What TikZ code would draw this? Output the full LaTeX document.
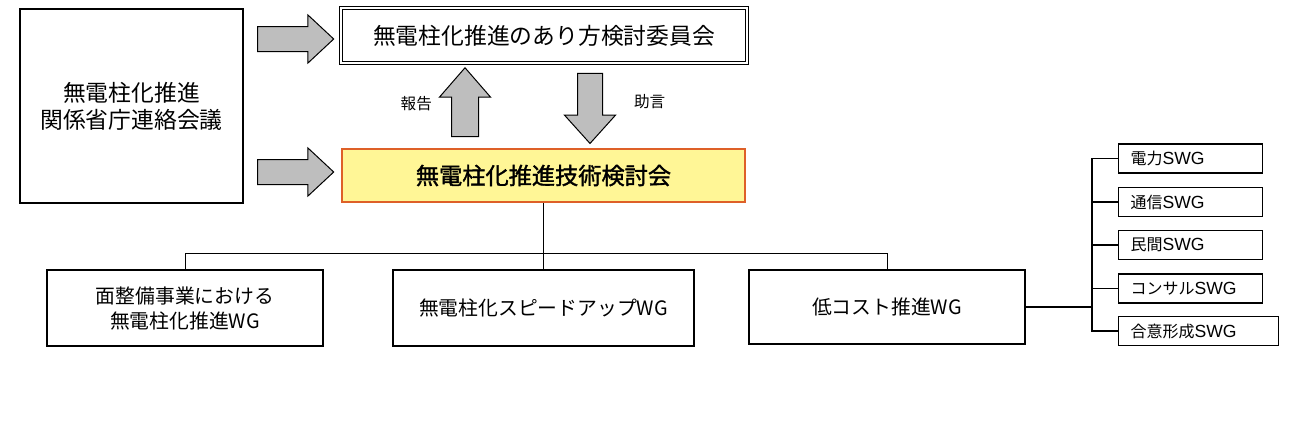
\documentclass[tikz,border=0pt]{standalone}
\usepackage{fontspec}
\setmainfont{Noto Sans CJK JP}
\newfontfamily\cjkbold[FakeBold=1.5]{Noto Sans CJK JP}
\newfontfamily\latin{Liberation Sans}
\usetikzlibrary{shapes.arrows,positioning}
\definecolor{techfill}{RGB}{255,246,150}
\definecolor{techline}{RGB}{222,96,40}
\definecolor{arrowgray}{RGB}{190,190,190}
\newcommand{\swgname}[1]{\hspace*{6pt}#1{\latin\fontsize{8.8}{10}\selectfont SWG}}

\begin{document}
\begin{tikzpicture}[x=0.5pt,y=-0.5pt,node distance=6pt,
  box/.style={draw,rectangle,inner sep=0pt,align=center,line width=0.6pt},
  swg/.style={draw,rectangle,inner sep=0pt,anchor=west,minimum height=14.5pt,
    text width=72pt,align=left,font=\fontsize{8}{10}\selectfont,line width=0.6pt},
  blockarrow/.style={single arrow,draw,fill=arrowgray,inner sep=6pt,line width=0.5pt,
    single arrow head indent=0pt}]
  \useasboundingbox (0,0) rectangle (1309,420);
  % upper part
  \node[box,minimum width=111.5pt,minimum height=97pt,
    font=\fontsize{11.4}{13.5}\selectfont] (renraku) at (131.5,106)
    {無電柱化推進\\関係省庁連絡会議};
  \node[box,minimum width=203pt,minimum height=27.5pt,double,double distance=1pt,
    line width=0.7pt,font=\fontsize{11.4}{14}\selectfont] (iinkai) at (544,35.5)
    {無電柱化推進のあり方検討委員会};
  \node[box,minimum width=201.5pt,minimum height=26.5pt,fill=techfill,draw=techline,
    line width=1pt,font=\fontsize{11.6}{14}\cjkbold] (gijutsu) at (543.5,175.5)
    {無電柱化推進技術検討会};
  \node[blockarrow,minimum height=38pt,
    single arrow head extend=5.75pt,single arrow tip angle=86] (a1) at (289,39) {};
  \node[blockarrow,minimum height=38pt,
    single arrow head extend=5.75pt,single arrow tip angle=86] (a2) at (289,172) {};
  \node[blockarrow,minimum height=34.5pt,inner sep=6.5pt,shape border rotate=90,
    single arrow head extend=6pt,single arrow tip angle=82] (up) at (465,110) {};
  \node[blockarrow,minimum height=35pt,shape border rotate=270,
    single arrow head extend=6.5pt,single arrow tip angle=84] (down) at (590,101.5) {};
  \node[font=\fontsize{7.8}{9}\selectfont,left=6pt of up,yshift=3pt] (hokoku) {報告};
  \node[font=\fontsize{7.8}{9}\selectfont,right=12pt of down] (jogen) {助言};
  % working groups
  \node[box,minimum width=138pt,minimum height=38pt,
    font=\fontsize{9.9}{12.5}\selectfont] (men) at (185,308)
    {面整備事業における\\無電柱化推進WG};
  \node[box,minimum width=150.5pt,minimum height=38pt,
    font=\fontsize{9.9}{12.5}\selectfont] (speed) at (543.5,308)
    {無電柱化スピードアップWG};
  \node[box,minimum width=138pt,minimum height=37pt,
    font=\fontsize{9.9}{12.5}\selectfont] (cost) at (887,307)
    {低コスト推進WG};
  % sub working groups
  \node[swg] (s1) at (1118,158.5) {\swgname{電力}};
  \node[swg] (s2) at (1118,202) {\swgname{通信}};
  \node[swg] (s3) at (1118,245) {\swgname{民間}};
  \node[swg] (s4) at (1118,288.5) {\swgname{コンサル}};
  \node[swg,text width=80pt] (s5) at (1118,331) {\swgname{合意形成}};
  \coordinate (bus) at (0,253);
  \coordinate (trunk) at (1092,307);
  \draw[line width=0.5pt] (gijutsu.south) -- (gijutsu.south |- bus) -| (men.north);
  \draw[line width=0.5pt] (gijutsu.south |- bus) -| (cost.north);
  \draw[line width=0.5pt] (gijutsu.south |- bus) -- (speed.north);
  \draw[line width=1pt] (cost.east) -- (trunk);
  \draw[line width=0.8pt] (s1.west) -- (s1.west -| trunk) -- (s5.west -| trunk) -- (s5.west);
  \draw[line width=0.6pt] (s2.west) -- (s2.west -| trunk)
    (s3.west) -- (s3.west -| trunk)
    (s4.west) -- (s4.west -| trunk);
\end{tikzpicture}
\end{document}
